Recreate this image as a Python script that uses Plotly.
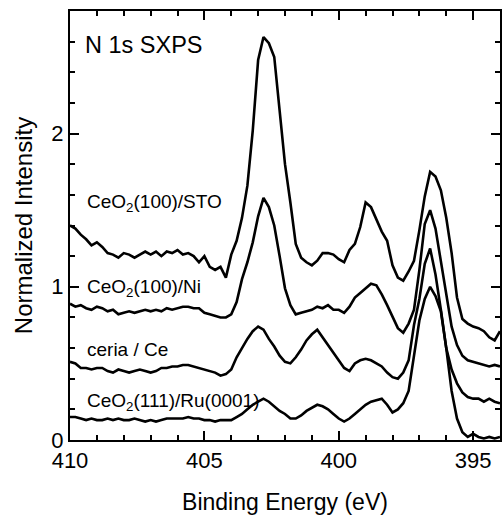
import plotly.graph_objects as go

# Binding energy grid (eV), 0.2 eV steps from 410 down to 394
energy = [round(410 - 0.2 * i, 1) for i in range(81)]

# N 1s intensities (normalized, offset for display)
sto = [1.40, 1.38, 1.34, 1.31, 1.27, 1.29, 1.26, 1.22, 1.21, 1.19,
       1.22, 1.21, 1.19, 1.21, 1.23, 1.21, 1.23, 1.20, 1.23, 1.22,
       1.24, 1.21, 1.22, 1.20, 1.16, 1.20, 1.13, 1.11, 1.13, 1.06,
       1.21, 1.30, 1.45, 1.66, 2.02, 2.48, 2.63, 2.59, 2.50, 2.15,
       1.80, 1.55, 1.28, 1.19, 1.16, 1.14, 1.17, 1.22, 1.22, 1.21,
       1.18, 1.16, 1.24, 1.28, 1.39, 1.55, 1.52, 1.44, 1.36, 1.30,
       1.14, 1.06, 1.04, 1.10, 1.17, 1.37, 1.59, 1.75, 1.72, 1.63,
       1.45, 1.22, 0.93, 0.79, 0.76, 0.74, 0.73, 0.71, 0.67, 0.65,
       0.71]

ni = [0.89, 0.87, 0.88, 0.86, 0.85, 0.87, 0.86, 0.84, 0.85, 0.82,
      0.83, 0.84, 0.83, 0.84, 0.85, 0.84, 0.85, 0.84, 0.86, 0.85,
      0.86, 0.87, 0.87, 0.86, 0.86, 0.83, 0.82, 0.81, 0.80, 0.80,
      0.82, 0.90, 1.05, 1.16, 1.29, 1.46, 1.58, 1.52, 1.40, 1.20,
      0.99, 0.88, 0.82, 0.83, 0.84, 0.85, 0.87, 0.86, 0.88, 0.85,
      0.85, 0.83, 0.87, 0.93, 0.96, 0.99, 1.02, 1.01, 0.95, 0.88,
      0.80, 0.73, 0.70, 0.76, 0.85, 1.11, 1.41, 1.50, 1.38, 1.16,
      0.94, 0.74, 0.62, 0.55, 0.52, 0.51, 0.50, 0.49, 0.48, 0.49,
      0.48]

ceria = [0.51, 0.50, 0.47, 0.47, 0.46, 0.47, 0.47, 0.45, 0.44, 0.46,
         0.45, 0.44, 0.45, 0.46, 0.45, 0.44, 0.45, 0.47, 0.47, 0.48,
         0.48, 0.49, 0.49, 0.48, 0.47, 0.46, 0.45, 0.44, 0.42, 0.43,
         0.46, 0.54, 0.60, 0.66, 0.71, 0.74, 0.72, 0.66, 0.61, 0.55,
         0.51, 0.50, 0.54, 0.59, 0.65, 0.69, 0.72, 0.67, 0.62, 0.57,
         0.52, 0.47, 0.45, 0.50, 0.52, 0.53, 0.52, 0.50, 0.48, 0.44,
         0.41, 0.40, 0.44, 0.52, 0.75, 0.92, 1.15, 1.25, 1.08, 0.85,
         0.60, 0.46, 0.37, 0.31, 0.28, 0.27, 0.27, 0.25, 0.27, 0.25,
         0.24]

ru = [0.15, 0.15, 0.14, 0.13, 0.14, 0.13, 0.13, 0.14, 0.13, 0.14,
      0.13, 0.13, 0.14, 0.13, 0.12, 0.13, 0.12, 0.13, 0.14, 0.14,
      0.14, 0.14, 0.15, 0.14, 0.14, 0.13, 0.13, 0.12, 0.13, 0.13,
      0.13, 0.15, 0.17, 0.20, 0.23, 0.25, 0.27, 0.25, 0.22, 0.19,
      0.17, 0.14, 0.14, 0.16, 0.19, 0.21, 0.23, 0.22, 0.20, 0.17,
      0.14, 0.12, 0.14, 0.17, 0.20, 0.23, 0.25, 0.26, 0.27, 0.23,
      0.18, 0.20, 0.24, 0.32, 0.55, 0.78, 0.92, 1.00, 0.94, 0.84,
      0.60, 0.32, 0.14, 0.05, 0.02, 0.04, 0.02, 0.01, 0.02, 0.01,
      0.02]

series = [("CeO2(100)/STO", sto), ("CeO2(100)/Ni", ni),
          ("ceria / Ce", ceria), ("CeO2(111)/Ru(0001)", ru)]

# Text labels placed next to each trace: (text, x in eV, y in intensity)
labels = [("CeO<sub>2</sub>(100)/STO", 409.45, 1.55),
          ("CeO<sub>2</sub>(100)/Ni", 409.45, 0.99),
          ("ceria / Ce", 409.45, 0.59),
          ("CeO<sub>2</sub>(111)/Ru(0001)", 409.45, 0.25)]

FONT = "Liberation Sans, Arial, Helvetica, sans-serif"

fig = go.Figure()
for name, vals in series:
    fig.add_trace(go.Scatter(x=energy, y=vals, mode="lines", name=name,
                             line=dict(color="black", width=2.6),
                             showlegend=False))

for text, lx, ly in labels:
    fig.add_annotation(x=lx, y=ly, text=text, showarrow=False,
                       xanchor="left", yanchor="middle",
                       font=dict(family=FONT, size=19, color="black"))

fig.add_annotation(x=409.5, y=2.58, text="N 1s SXPS", showarrow=False,
                   xanchor="left", yanchor="middle",
                   font=dict(family=FONT, size=23.5, color="black"))

axis_common = dict(showline=True, linecolor="black", linewidth=2,
                   mirror="allticks", ticks="inside", ticklen=9,
                   tickwidth=2, tickcolor="black", showgrid=False,
                   zeroline=False,
                   tickfont=dict(family=FONT, size=22, color="black"))

fig.update_xaxes(range=[410, 394], tickmode="linear", tick0=410, dtick=5,
                 minor=dict(ticks="inside", ticklen=5, tickwidth=2,
                            tickcolor="black", dtick=1, showgrid=False),
                 title=dict(text="Binding Energy (eV)",
                            font=dict(family=FONT, size=23, color="black"),
                            standoff=21),
                 **axis_common)
fig.update_yaxes(range=[0, 2.8], tickmode="linear", tick0=0, dtick=1,
                 minor=dict(ticks="inside", ticklen=5, tickwidth=2,
                            tickcolor="black", dtick=0.2, showgrid=False),
                 title=dict(text="Normalized Intensity",
                            font=dict(family=FONT, size=24, color="black"),
                            standoff=12),
                 **axis_common)

fig.update_layout(width=503, height=518,
                  margin=dict(l=70, r=3, t=11, b=78, autoexpand=False),
                  paper_bgcolor="white", plot_bgcolor="white")

fig.write_html("out.html")
